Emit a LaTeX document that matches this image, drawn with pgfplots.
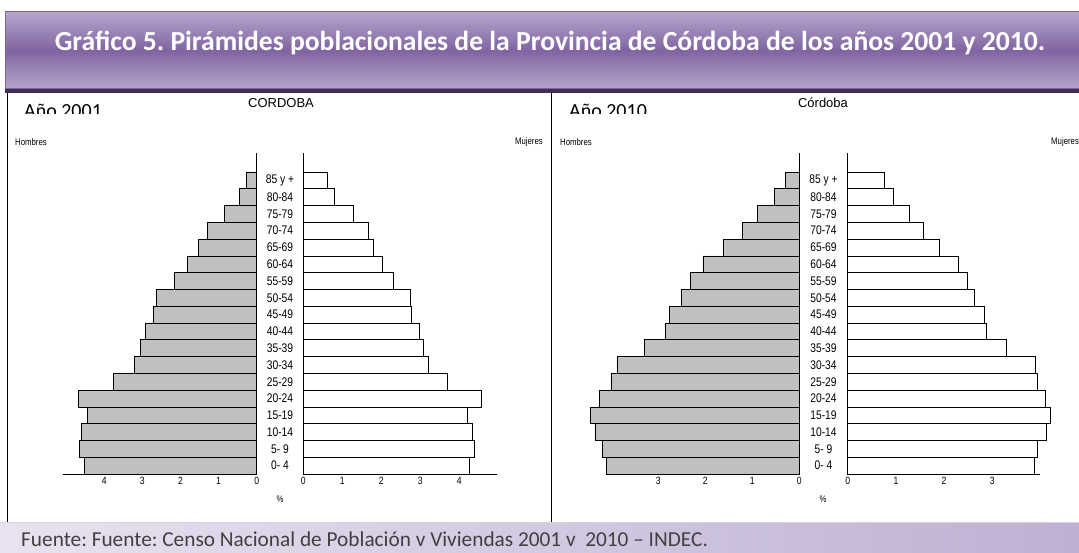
\documentclass[border=0pt]{standalone}
\usepackage{pgfplots}
\pgfplotsset{compat=1.18}
\usepackage{pgfplotstable}
\usepackage{fontspec}
\setmainfont{Liberation Sans}
\newfontfamily\calibri{Carlito}
\newfontfamily\narrow[FakeStretch=0.82]{Liberation Sans}
\frenchspacing

\definecolor{mengray}{RGB}{192,192,192}
\definecolor{tpurple}{RGB}{128,100,162}
\definecolor{tlight}{RGB}{182,166,204}
\definecolor{tdark}{RGB}{64,49,82}
\definecolor{flight}{RGB}{232,226,240}
\definecolor{fdark}{RGB}{190,176,210}

\pgfplotstableread{
idx m01 f01 m10 f10
0  4.52 4.25 4.11 3.87
1  4.66 4.38 4.20 3.93
2  4.60 4.34 4.35 4.12
3  4.44 4.21 4.45 4.21
4  4.67 4.56 4.25 4.11
5  3.76 3.69 4.01 3.93
6  3.21 3.21 3.88 3.89
7  3.04 3.08 3.30 3.30
8  2.91 2.97 2.85 2.88
9  2.71 2.78 2.77 2.83
10 2.64 2.74 2.51 2.62
11 2.16 2.31 2.32 2.49
12 1.82 2.03 2.05 2.29
13 1.52 1.79 1.62 1.90
14 1.29 1.67 1.21 1.56
15 0.85 1.28 0.89 1.28
16 0.46 0.80 0.53 0.95
17 0.26 0.62 0.30 0.76
}\datatable

\pgfplotsset{
  pyr/.style={scale only axis, height=321pt, ymin=-0.5, ymax=18.63,
    xbar, bar width=1, clip=false,
    axis x line*=bottom,
    axis line style={line width=0.8pt},
    major tick length=0pt,
    tick label style={font=\narrow\fontsize{10.5}{11}\selectfont},
    /pgf/number format/assume math mode=true},
  menaxis/.style={pyr, axis y line*=right, ytick=\empty},
  womaxis/.style={pyr, axis y line*=left, ytick={0,...,17},
    yticklabels={0- 4,5- 9,10-14,15-19,20-24,25-29,30-34,35-39,40-44,45-49,50-54,55-59,60-64,65-69,70-74,75-79,80-84,85 y +},
    yticklabel style={anchor=center, font=\narrow\fontsize{12.5}{13}\selectfont}},
  menbar/.style={fill=mengray, draw=black, line width=0.7pt},
  wombar/.style={fill=white, draw=black, line width=0.7pt}
}

\begin{document}
\begin{tikzpicture}[x=1pt,y=1pt]
\useasboundingbox (0,0) rectangle (1079,552);
\clip (0,0) rectangle (1079,552);
\fill[white] (0,0) rectangle (1079,552);

% title bar
\shade[top color=tlight, bottom color=tlight, middle color=tpurple] (5,463) rectangle (1090,540);
\draw[tpurple, line width=1pt] (5,463) rectangle (1090,540);
\fill[tdark] (5,459) rectangle (1090,463);
\node[text=white, font=\calibri\bfseries\fontsize{27.6}{30}\selectfont] at (550,509) {Gráfico 5. Pirámides poblacionales de la Provincia de Córdoba de los años 2001 y 2010.};

% frame lines
\draw[black, line width=0.8pt] (7,459) -- (7,30);
\draw[black, line width=0.8pt] (551.7,459) -- (551.7,30);

% year labels (clipped)
\begin{scope}
\clip (0,438) rectangle (1079,458);
\node[anchor=base west, inner sep=0, font=\calibri\fontsize{20}{22}\selectfont] at (24,434) {Año 2001};
\node[anchor=base west, inner sep=0, font=\calibri\fontsize{20}{22}\selectfont] at (569,434) {Año 2010};
\end{scope}

\node[font=\fontsize{13}{14}\selectfont] at (281,449) {CORDOBA};
\node[font=\fontsize{13}{14}\selectfont] at (823,449) {Córdoba};
\node[font=\narrow\fontsize{9.5}{10}\selectfont, anchor=west, inner sep=0] at (15,410) {Hombres};
\node[font=\narrow\fontsize{9.5}{10}\selectfont, anchor=east, inner sep=0] at (543,410) {Mujeres};
\node[font=\narrow\fontsize{9.5}{10}\selectfont, anchor=west, inner sep=0] at (560,410) {Hombres};
\node[font=\narrow\fontsize{9.5}{10}\selectfont, anchor=west, inner sep=0] at (1051,410) {Mujeres};
\node[font=\narrow\fontsize{9.5}{10}\selectfont] at (280,53) {\%};
\node[font=\narrow\fontsize{9.5}{10}\selectfont] at (823,53) {\%};

% 2001
\begin{axis}[menaxis, at={(63pt,78pt)}, anchor=south west, width=193.7pt,
  xmin=-5.08, xmax=0, xtick={-4,-3,-2,-1,0}, xticklabels={4,3,2,1,0}]
\addplot[menbar] table[x expr=-\thisrow{m01}, y=idx]{\datatable};
\end{axis}
\begin{axis}[womaxis, at={(303.3pt,78pt)}, anchor=south west, width=193.7pt,
  xmin=0, xmax=4.97, xtick={0,1,2,3,4}, yticklabel style={xshift=-23.3pt}]
\addplot[wombar] table[x=f01, y=idx]{\datatable};
\end{axis}

% 2010
\begin{axis}[menaxis, at={(605.7pt,78pt)}, anchor=south west, width=193.6pt,
  xmin=-4.12, xmax=0, xtick={-3,-2,-1,0}, xticklabels={3,2,1,0}]
\addplot[menbar] table[x expr=-\thisrow{m10}, y=idx]{\datatable};
\end{axis}
\begin{axis}[womaxis, at={(847.7pt,78pt)}, anchor=south west, width=192.3pt,
  xmin=0, xmax=3.99, xtick={0,1,2,3}, yticklabel style={xshift=-24.2pt}]
\addplot[wombar] table[x=f10, y=idx]{\datatable};
\end{axis}

% footer
\shade[left color=flight, right color=fdark] (0,0) rectangle (1079,30);
\draw[fdark!80!black!40, line width=0.6pt] (0,30) -- (1079,30);
\node[anchor=base west, inner sep=0, text=black!75, font=\calibri\fontsize{21.3}{24}\selectfont] at (21,6) {Fuente: Fuente: Censo Nacional de Población v Viviendas 2001 v\ \ 2010 – INDEC.};
\end{tikzpicture}
\end{document}
